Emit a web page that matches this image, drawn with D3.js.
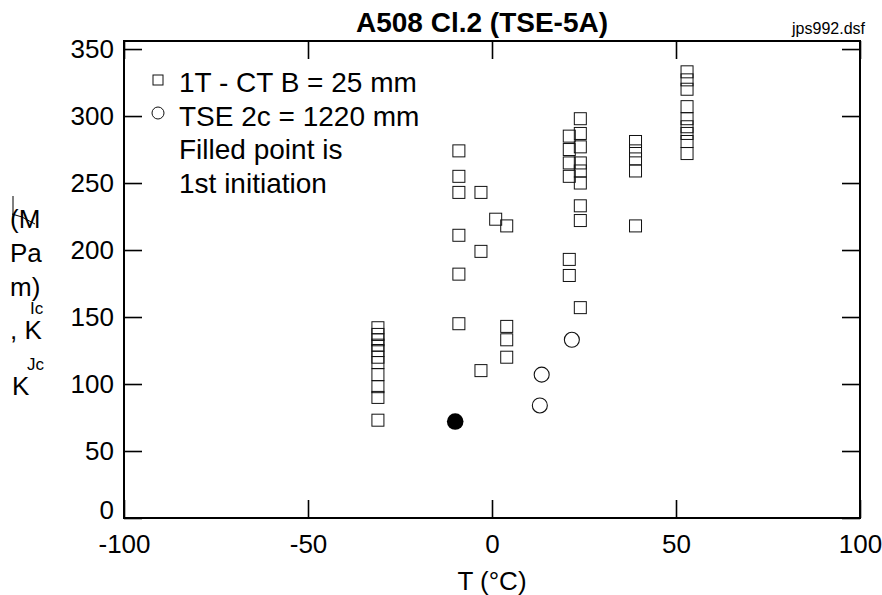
<!DOCTYPE html>
<html>
<head>
<meta charset="utf-8">
<script src="https://cdn.jsdelivr.net/npm/d3@7"></script>
<style>
  body { margin: 0; background: #fff; }
  text { font-family: "Liberation Sans", Arial, sans-serif; fill: #000; }
</style>
</head>
<body>
<div id="chart"></div>
<script>
// 1T - CT B = 25 mm specimens (open squares): [T (°C), K (MPa√m)]
const ctPoints = [
    [-31, 142], [-31, 137], [-31, 133], [-31, 129], [-31, 125], [-31, 120],
    [-31, 116], [-31, 107], [-31, 98], [-31, 90], [-31, 73],
    [-9, 274], [-9, 255], [-9, 243], [-9, 211], [-9, 182], [-9, 145],
    [-3, 243], [-3, 199], [-3, 110],
    [1, 223],
    [4, 218], [4, 143], [4, 133], [4, 120],
    [21, 285], [21, 275], [21, 265], [21, 255], [21, 193], [21, 181],
    [24, 298], [24, 287], [24, 277], [24, 265], [24, 259], [24, 250],
    [24, 233], [24, 222], [24, 157],
    [39, 281], [39, 274], [39, 268], [39, 259], [39, 218],
    [53, 333], [53, 327], [53, 320], [53, 307], [53, 298], [53, 292],
    [53, 287], [53, 281], [53, 272]
];
// TSE 2c = 1220 mm (open circles)
const tsePoints = [[13.5, 107], [13, 84], [21.7, 133]];
// first initiation (filled)
const firstInit = [[-10, 72]];

const xTicks = [-100, -50, 0, 50, 100];
const yTicks = [0, 50, 100, 150, 200, 250, 300, 350];
const legendLines = ['1T - CT B = 25 mm', 'TSE 2c = 1220 mm', 'Filled point is', '1st initiation'];

const width = 882, height = 595;
const plot = { left: 124, right: 860, top: 41, bottom: 518 };

const svg = d3.select('#chart').append('svg')
    .attr('width', width)
    .attr('height', height);

const x = d3.scaleLinear().domain([-100, 100]).range([plot.left, plot.right]);
const y = d3.scaleLinear().domain([0, 356]).range([plot.bottom, plot.top]);

const tickLen = 18;
const fmt = d => String(d);  // plain hyphen, like the original

// axes (ticks point inward)
const gx = svg.append('g')
    .attr('transform', `translate(0,${plot.bottom})`)
    .call(d3.axisBottom(x).tickValues(xTicks).tickFormat(fmt)
        .tickSizeInner(-tickLen).tickSizeOuter(0).tickPadding(17));
const gy = svg.append('g')
    .attr('transform', `translate(${plot.left},0)`)
    .call(d3.axisLeft(y).tickValues(yTicks).tickFormat(fmt)
        .tickSizeInner(-tickLen).tickSizeOuter(0).tickPadding(10));
const gt = svg.append('g')
    .attr('transform', `translate(0,${plot.top})`)
    .call(d3.axisTop(x).tickValues(xTicks).tickSizeInner(-tickLen).tickSizeOuter(0).tickFormat(''));
const gr = svg.append('g')
    .attr('transform', `translate(${plot.right},0)`)
    .call(d3.axisRight(y).tickValues(yTicks).tickSizeInner(-tickLen).tickSizeOuter(0).tickFormat(''));

[gx, gy, gt, gr].forEach(g => {
    g.select('.domain').remove();
    g.selectAll('line').attr('stroke', '#000').attr('stroke-width', 1.6);
    g.selectAll('text')
        .style('font-family', '"Liberation Sans", Arial, sans-serif')
        .style('font-size', '26px')
        .attr('fill', '#000');
});

// the "0" on the y axis sits a little above its tick in the original
gy.selectAll('.tick text').filter(d => d === 0).attr('dy', '0');

// frame
svg.append('rect')
    .attr('x', plot.left)
    .attr('y', plot.top)
    .attr('width', plot.right - plot.left)
    .attr('height', plot.bottom - plot.top)
    .attr('fill', 'none')
    .attr('stroke', '#000')
    .attr('stroke-width', 2);

// title
svg.append('text')
    .attr('x', 482)
    .attr('y', 32)
    .style('text-anchor', 'middle')
    .style('font-size', '28px')
    .style('font-weight', 'bold')
    .text('A508 Cl.2 (TSE-5A)');

svg.append('text')
    .attr('x', 865)
    .attr('y', 34)
    .style('text-anchor', 'end')
    .style('font-size', '16px')
    .text('jps992.dsf');

// x label
svg.append('text')
    .attr('x', 492)
    .attr('y', 590)
    .style('text-anchor', 'middle')
    .style('font-size', '26px')
    .text('T (°C)');

// y label (broken-up rotated label as in the original)
const ylab = svg.append('g');
const ylabParts = [
    { t: '(M', x: 10, y: 228, s: 26 },
    { t: 'Pa', x: 10, y: 262, s: 26 },
    { t: 'm)', x: 10, y: 296, s: 26 },
    { t: 'Ic', x: 30, y: 314, s: 17 },
    { t: ', K', x: 10, y: 339, s: 26 },
    { t: 'Jc', x: 27, y: 370, s: 17 },
    { t: 'K', x: 12, y: 395, s: 26 }
];
ylab.selectAll('text')
    .data(ylabParts)
    .join('text')
    .attr('x', d => d.x)
    .attr('y', d => d.y)
    .style('font-size', d => d.s + 'px')
    .text(d => d.t);
ylab.append('path')
    .attr('d', 'M13,196 L13,223 M12,214 L22,217 L35,224')
    .attr('fill', 'none')
    .attr('stroke', '#000')
    .attr('stroke-width', 1);

// data
const sq = 12;
svg.append('g').selectAll('rect')
    .data(ctPoints)
    .join('rect')
    .attr('x', d => x(d[0]) - sq / 2)
    .attr('y', d => y(d[1]) - sq / 2)
    .attr('width', sq)
    .attr('height', sq)
    .attr('fill', 'none')
    .attr('stroke', '#111')
    .attr('stroke-width', 1);

svg.append('g').selectAll('circle')
    .data(tsePoints)
    .join('circle')
    .attr('cx', d => x(d[0]))
    .attr('cy', d => y(d[1]))
    .attr('r', 7.5)
    .attr('fill', 'none')
    .attr('stroke', '#111')
    .attr('stroke-width', 1.1);

svg.append('g').selectAll('circle')
    .data(firstInit)
    .join('circle')
    .attr('cx', d => x(d[0]))
    .attr('cy', d => y(d[1]))
    .attr('r', 8.3)
    .attr('fill', '#000');

// legend
const legend = svg.append('g');
legend.selectAll('text')
    .data(legendLines)
    .join('text')
    .attr('x', 179)
    .attr('y', (d, i) => 92 + i * 33.5)
    .style('font-size', '28px')
    .text(d => d);
legend.append('rect')
    .attr('x', 153).attr('y', 75)
    .attr('width', 10).attr('height', 10)
    .attr('fill', 'none').attr('stroke', '#111').attr('stroke-width', 1);
legend.append('circle')
    .attr('cx', 158).attr('cy', 113).attr('r', 6)
    .attr('fill', 'none').attr('stroke', '#111').attr('stroke-width', 1);
</script>
</body>
</html>
